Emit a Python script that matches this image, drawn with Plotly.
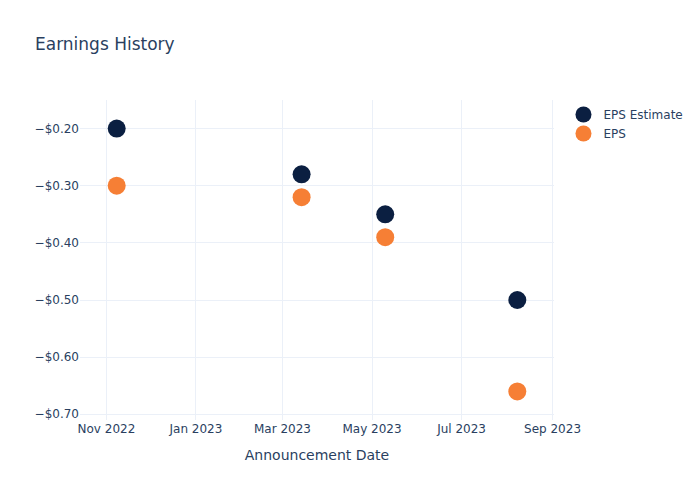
import plotly.graph_objects as go

dates = ["2022-11-08", "2023-03-14", "2023-05-10", "2023-08-08"]
eps_estimate = [-0.20, -0.28, -0.35, -0.50]
eps_actual = [-0.30, -0.32, -0.39, -0.66]
x_range = ["2022-10-14", "2023-09-02"]
y_range = [-0.71, -0.15]

fig = go.Figure()
fig.add_trace(go.Scatter(x=dates, y=eps_estimate, mode="markers", name="EPS Estimate",
                         marker=dict(color="#0b1f41", size=18)))
fig.add_trace(go.Scatter(x=dates, y=eps_actual, mode="markers", name="EPS",
                         marker=dict(color="#f67f35", size=18)))
fig.update_layout(
    template="plotly_white",
    width=700, height=500,
    font=dict(family="DejaVu Sans"),
    title=dict(text="Earnings History"),
    xaxis=dict(title=dict(text="Announcement Date"), dtick="M2", tickformat="%b %Y",
               range=x_range),
    yaxis=dict(tickformat="$.2f", range=y_range),
)
fig.write_html("out.html")
